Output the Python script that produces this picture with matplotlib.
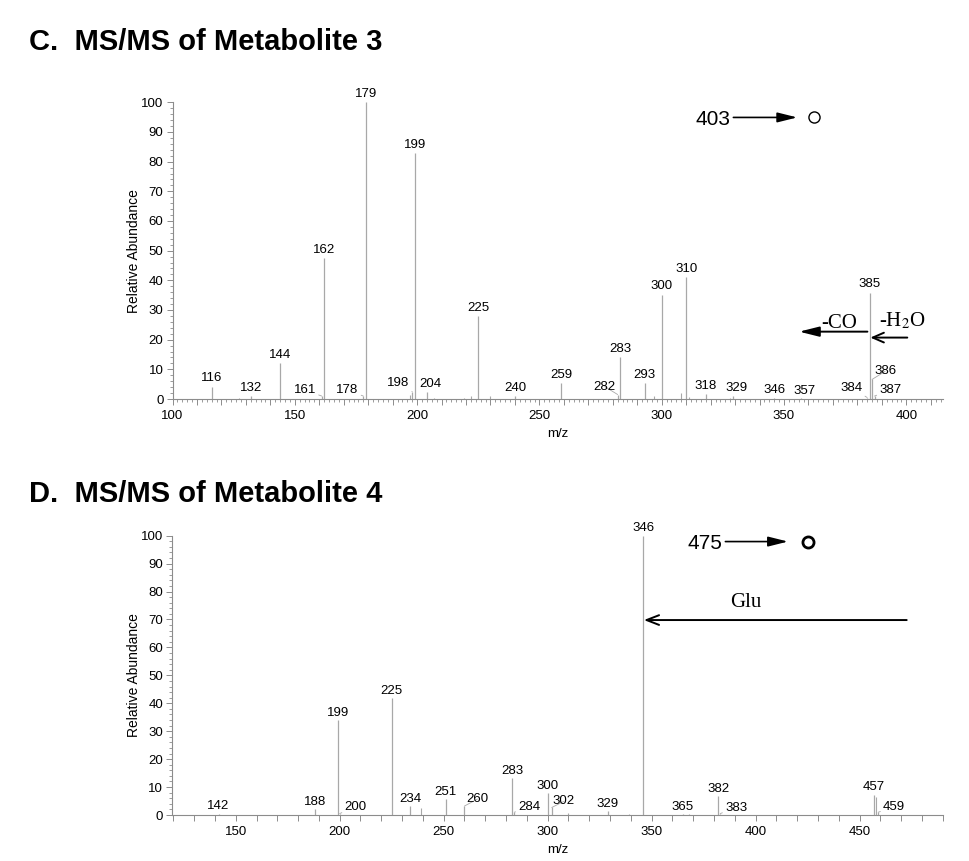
import matplotlib
matplotlib.use("Agg")
import matplotlib.pyplot as plt
from matplotlib.ticker import MultipleLocator, FuncFormatter

# ---------------- data ----------------
# Metabolite 3 (panel C)
mz_c = [116, 132, 144, 161, 162, 178, 179, 198, 199, 204, 225, 240, 259,
        282, 283, 293, 300, 310, 318, 329, 346, 357, 384, 385, 386, 387]
int_c = [4.1, 1.0, 12.2, 1.0, 47.6, 1.0, 100, 2.5, 83, 2.2, 28, 1.0, 5.5,
         1.5, 14, 5.3, 35, 41, 1.6, 1.0, 0.5, 0.5, 0.5, 35.8, 6.6, 1.0]
noise_mz_c = [127, 197, 207, 219, 222, 230, 297, 308, 311, 328]
noise_int_c = [0.5, 1.5, 0.5, 0.5, 1.0, 1.0, 1.0, 2.0, 0.8, 0.5]

# Metabolite 4 (panel D)
mz_d = [142, 188, 199, 200, 225, 234, 251, 260, 283, 284, 300, 302, 329,
        346, 365, 382, 383, 457, 459]
int_d = [0.5, 2.1, 34, 0.5, 41.8, 3.2, 5.6, 3.2, 13.4, 1.0, 8.0, 2.7, 1.5,
         100, 0.5, 6.8, 0.5, 7.0, 1.0]
noise_mz_d = [239, 310, 339, 368, 458]
noise_int_d = [2.5, 0.8, 0.5, 0.5, 6.6]

# ---------------- layout ----------------
# label offsets in pixels (dx, dy) relative to peak top
off_c = {161: (-17, 6), 178: (-16, 6), 198: (-14, 9), 204: (3, 8),
         282: (-13, 8), 329: (4, 8), 357: (3, 7), 384: (-16, 10),
         386: (13, 8), 387: (16, 6), 116: (0, 9), 300: (0, 9), 385: (0, 9)}
off_d = {142: (-1, 8), 200: (16, 7), 260: (13, 7), 284: (15, 5),
         302: (12, 6), 383: (16, 6), 459: (16, 5), 346: (0, 8), 457: (0, 8)}

W, H = 969, 861
fig = plt.figure(figsize=(W / 100, H / 100), dpi=100)
plt.rcParams['font.family'] = ['Liberation Sans', 'DejaVu Sans']
plt.rcParams['mathtext.fontset'] = 'stix'

PEAK = '#a8a8a8'
AX = '#8c8c8c'
FS = 9.5


def px_axes(l, r, b, t):
    return fig.add_axes([l / W, 1 - b / H, (r - l) / W, (b - t) / H])


def setup(ax, xlim, minor_x):
    ax.set_xlim(*xlim)
    ax.set_ylim(0, 100)
    for s in ['top', 'right']:
        ax.spines[s].set_visible(False)
    for s in ['left', 'bottom']:
        ax.spines[s].set_color(AX)
        ax.spines[s].set_linewidth(0.8)
    ax.yaxis.set_major_locator(MultipleLocator(10))
    ax.yaxis.set_minor_locator(MultipleLocator(2))
    ax.xaxis.set_major_locator(MultipleLocator(10))
    if minor_x:
        ax.xaxis.set_minor_locator(MultipleLocator(2))
    ax.xaxis.set_major_formatter(
        FuncFormatter(lambda v, p: f"{int(round(v))}" if round(v) % 50 == 0 else ""))
    ax.tick_params(which='major', direction='out', length=4, width=0.7,
                   color=AX, labelsize=FS, pad=2.5)
    ax.tick_params(axis='x', which='major', pad=4)
    ax.tick_params(which='minor', direction='out', length=2.2, width=0.6,
                   color=AX)
    ax.set_ylabel('Relative Abundance', fontsize=10, labelpad=0)
    ax.set_xlabel('m/z', fontsize=9.5, labelpad=4)


def draw(ax, mz, inten, nmz, nint, offs, default=(0, 8)):
    ax.vlines(nmz, 0, nint, color=PEAK, lw=0.8)
    ax.vlines(mz, 0, inten, color=PEAK, lw=0.9)
    for m, v in zip(mz, inten):
        dx, dy = offs.get(m, default)
        kw = {}
        if abs(dx) > 8:
            kw['arrowprops'] = dict(arrowstyle='-', color=PEAK, lw=0.6,
                                    shrinkA=0, shrinkB=0)
        ax.annotate(str(m), (m, v), xytext=(dx, dy), textcoords='offset pixels',
                    ha='center', va='center', fontsize=FS, **kw)


# ---------------- panel C ----------------
axc = px_axes(172.5, 943, 399, 102.3)
setup(axc, (100, 415), True)
draw(axc, mz_c, int_c, noise_mz_c, noise_int_c, off_c)
fig.text(29 / W, 1 - 42 / H, 'C.  MS/MS of Metabolite 3', fontsize=21,
         fontweight='bold', va='center', ha='left')
axc.text(321.1, 94.3, '403', fontsize=15, ha='center', va='center')
axc.annotate('', xy=(355.4, 94.9), xytext=(329.3, 94.9),
             arrowprops=dict(arrowstyle='-|>,head_length=1.2,head_width=0.3',
                             color='black', lw=1.2, shrinkA=0, shrinkB=0))
axc.plot([362.1], [95.1], 'o', mfc='white', mec='black', ms=8, mew=1.0,
         clip_on=False)
axc.text(372.5, 25.6, '-CO', fontsize=15, family='Liberation Serif',
         ha='center', va='center')
axc.annotate('', xy=(356.2, 22.7), xytext=(384.1, 22.7),
             arrowprops=dict(arrowstyle='-|>,head_length=1.2,head_width=0.3',
                             color='black', lw=1.4, shrinkA=0, shrinkB=0))
axc.text(398.2, 26.4, r'-H$_\mathrm{2}$O', fontsize=15, family='Liberation Serif',
         ha='center', va='center')
axc.annotate('', xy=(385.3, 20.7), xytext=(400.4, 20.7),
             arrowprops=dict(arrowstyle='->,head_length=0.8,head_width=0.35',
                             color='black', lw=1.4, shrinkA=0, shrinkB=0))

# ---------------- panel D ----------------
axd = px_axes(172.3, 943.3, 815, 535.7)
setup(axd, (119.5, 490.3), False)
draw(axd, mz_d, int_d, noise_mz_d, noise_int_d, off_d, default=(0, 7))
fig.text(29 / W, 1 - 494 / H, 'D.  MS/MS of Metabolite 4', fontsize=21,
         fontweight='bold', va='center', ha='left')
axd.text(375.6, 97.3, '475', fontsize=15, ha='center', va='center')
axd.annotate('', xy=(415.6, 97.9), xytext=(385.5, 97.9),
             arrowprops=dict(arrowstyle='-|>,head_length=1.2,head_width=0.3',
                             color='black', lw=1.2, shrinkA=0, shrinkB=0))
axd.plot([425.2], [97.7], 'o', mfc='white', mec='black', ms=8, mew=2.0,
         clip_on=False)
axd.text(395.3, 76.2, 'Glu', fontsize=15, family='Liberation Serif',
         ha='center', va='center')
axd.annotate('', xy=(346.3, 69.8), xytext=(472.7, 69.8),
             arrowprops=dict(arrowstyle='->,head_length=0.9,head_width=0.35',
                             color='black', lw=1.4, shrinkA=0, shrinkB=0))

fig.savefig('out.png', dpi=100)
